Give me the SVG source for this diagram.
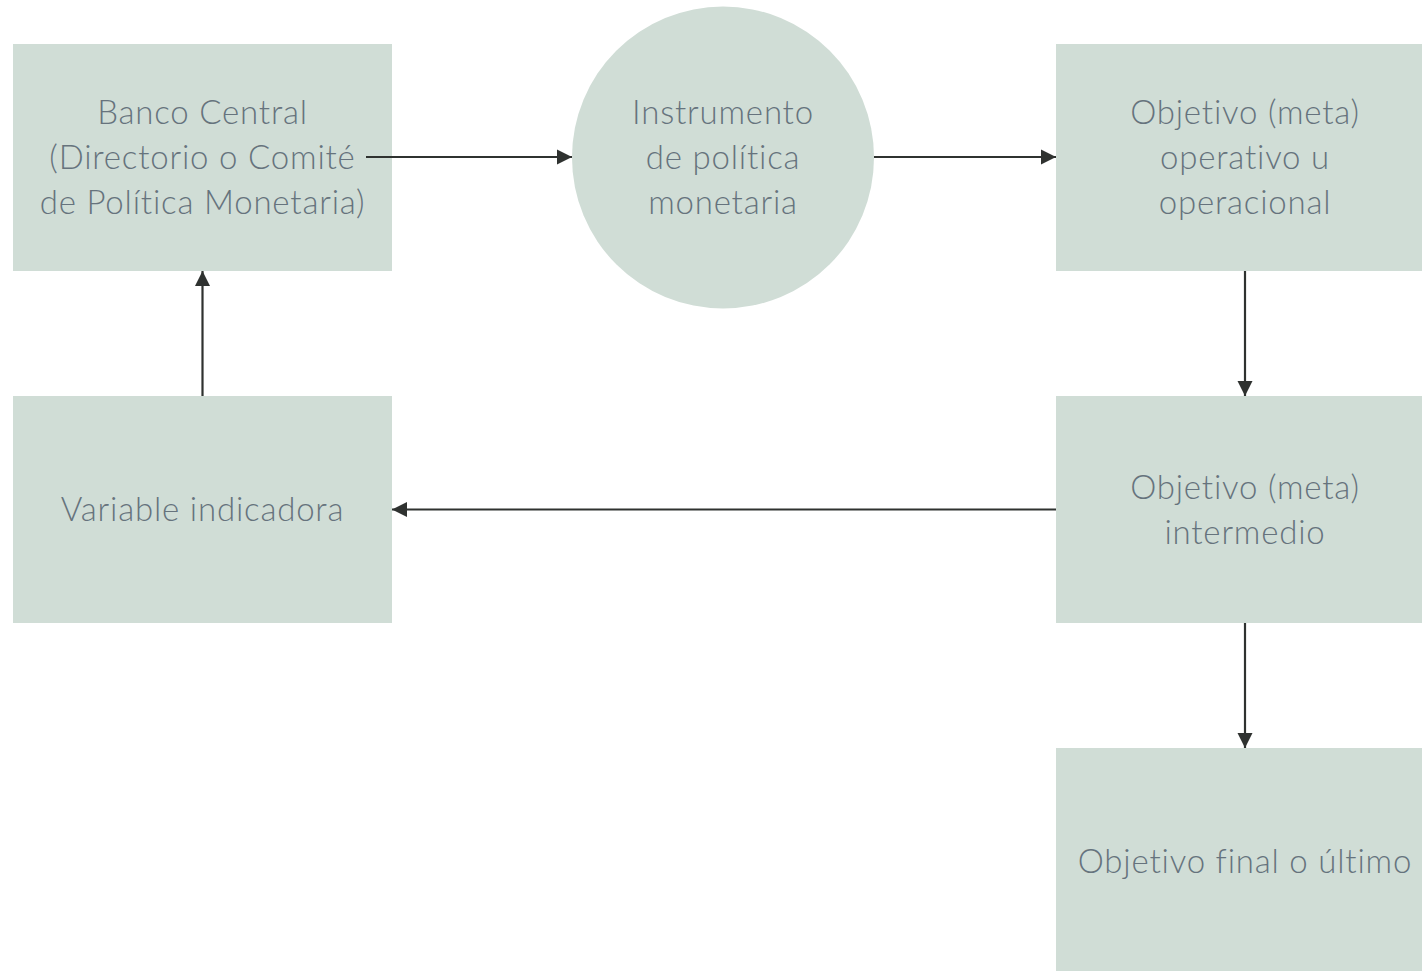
<svg xmlns="http://www.w3.org/2000/svg" width="1422" height="971" viewBox="0 0 1422 971">
  <style>
    .node { fill: #d0ddd6; }
    .label { font-family: Lato, "Open Sans", "Liberation Sans", sans-serif; font-weight: 300; font-size: 33px; letter-spacing: 0.8px; font-variant-ligatures: none; fill: #66737d; text-anchor: middle; }
    .edge { stroke: #2f3230; stroke-width: 2.2; fill: none; marker-end: url(#arrow); }
  </style>
  <defs>
    <marker id="arrow" viewBox="0 0 10 10" refX="10" refY="5" markerWidth="7" markerHeight="7" markerUnits="strokeWidth" orient="auto">
      <path d="M0,0 L10,5 L0,10 z" fill="#2f3230"/>
    </marker>
  </defs>
  <rect width="1422" height="971" fill="#ffffff"/>

  <g id="banco-central">
    <rect class="node" x="13" y="44" width="379" height="227"/>
    <text class="label" x="202.5" y="124">Banco Central</text>
    <text class="label" x="202.5" y="169">(Directorio o Comité</text>
    <text class="label" x="202.5" y="214">de Política Monetaria)</text>
  </g>

  <g id="instrumento">
    <circle class="node" cx="723" cy="157.5" r="151"/>
    <text class="label" x="723" y="124">Instrumento</text>
    <text class="label" x="723" y="169">de política</text>
    <text class="label" x="723" y="214">monetaria</text>
  </g>

  <g id="objetivo-operativo">
    <rect class="node" x="1056" y="44" width="379" height="227"/>
    <text class="label" x="1245" y="124">Objetivo (meta)</text>
    <text class="label" x="1245" y="169">operativo u</text>
    <text class="label" x="1245" y="214">operacional</text>
  </g>

  <g id="objetivo-intermedio">
    <rect class="node" x="1056" y="396" width="379" height="227"/>
    <text class="label" x="1245" y="499">Objetivo (meta)</text>
    <text class="label" x="1245" y="544">intermedio</text>
  </g>

  <g id="objetivo-final">
    <rect class="node" x="1056" y="748" width="379" height="227"/>
    <text class="label" x="1245" y="873">Objetivo final o último</text>
  </g>

  <g id="variable-indicadora">
    <rect class="node" x="13" y="396" width="379" height="227"/>
    <text class="label" x="202.5" y="521">Variable indicadora</text>
  </g>

  <g id="connectors">
    <line class="edge" x1="366" y1="157" x2="572" y2="157"/>
    <line class="edge" x1="874" y1="157" x2="1056" y2="157"/>
    <line class="edge" x1="1245" y1="271" x2="1245" y2="396"/>
    <line class="edge" x1="1245" y1="623" x2="1245" y2="748"/>
    <line class="edge" x1="1056" y1="509.5" x2="392" y2="509.5"/>
    <line class="edge" x1="202.5" y1="396" x2="202.5" y2="271"/>
  </g>
</svg>
